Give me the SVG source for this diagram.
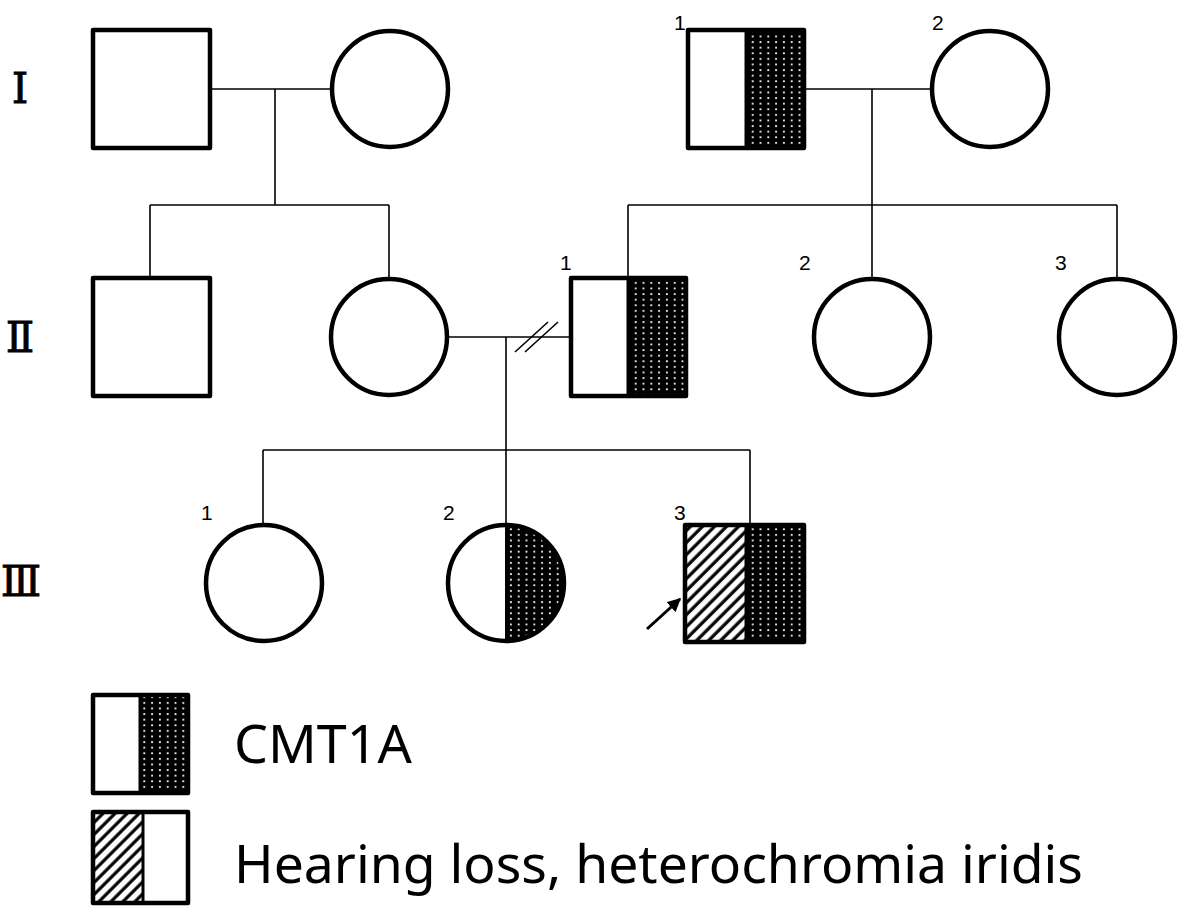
<svg xmlns="http://www.w3.org/2000/svg" width="1181" height="913" viewBox="0 0 1181 913">
<defs>
<pattern id="dots" patternUnits="userSpaceOnUse" width="7.8" height="5.6">
<rect width="7.8" height="5.6" fill="#000"/>
<rect x="3" y="2" width="1.8" height="1.8" fill="#fff"/>
</pattern>
<pattern id="hatch" patternUnits="userSpaceOnUse" width="8.5" height="8.5" patternTransform="rotate(45)">
<rect width="8.5" height="8.5" fill="#fff"/>
<line x1="2" y1="-1" x2="2" y2="10" stroke="#000" stroke-width="3.2"/>
</pattern>
<marker id="arrow" viewBox="0 0 10 10" refX="9" refY="5" markerWidth="4.5" markerHeight="4.5" orient="auto" markerUnits="strokeWidth">
<path d="M0,0 L10,5 L0,10 Z" fill="#000"/>
</marker>
</defs>
<style>
.sym{fill:none;stroke:#000;stroke-width:4.5;stroke-linejoin:round}
.ln{fill:none;stroke:#000;stroke-width:1.6}
.num{font-family:"Liberation Sans","Noto Sans",sans-serif;font-size:21px;fill:#000}
.gen{font-family:"DejaVu Serif","Liberation Serif",serif;font-size:42px;fill:#000;stroke:#000;stroke-width:0.8;text-anchor:middle}
.leg{font-family:"Noto Sans","Open Sans",sans-serif;font-size:52px;fill:#000}
</style>
<rect width="1181" height="913" fill="#fff"/>

<g id="connectors">
<path class="ln" d="M210,89 H332 M275,89 V205 M150,205 H389 M150,205 V278 M389,205 V279"/>
<path class="ln" d="M804,89 H932 M872,89 V205 M628,205 H1117 M628,205 V278 M872,205 V279 M1117,205 V279"/>
<path class="ln" d="M447,337 H571 M506,337 V525 M263,450 H750 M263,450 V525 M750,450 V525"/>
<path class="ln" d="M515,352 L548,322 M525,352 L558,322"/>
<line x1="647" y1="629" x2="680" y2="599" stroke="#000" stroke-width="3" marker-end="url(#arrow)"/>
</g>

<g id="generations">
<text class="gen" x="20" y="103">Ⅰ</text>
<text class="gen" x="20" y="352">Ⅱ</text>
<text class="gen" x="21" y="596">Ⅲ</text>
</g>

<g id="I-left-father"><rect class="sym" x="93" y="30" width="117" height="118" fill="#fff"/></g>
<g id="I-left-mother"><circle class="sym" cx="390" cy="89" r="58" fill="#fff"/></g>

<g id="I-1">
<rect x="746" y="30" width="58" height="118" fill="url(#dots)"/>
<rect class="sym" x="688" y="30" width="116" height="118"/>
<line x1="746" y1="30" x2="746" y2="148" stroke="#000" stroke-width="3"/>
<text class="num" x="674" y="30">1</text>
</g>
<g id="I-2">
<circle class="sym" cx="990" cy="89" r="58" fill="#fff"/>
<text class="num" x="932" y="30">2</text>
</g>

<g id="II-left-uncle"><rect class="sym" x="93" y="278" width="117" height="118" fill="#fff"/></g>
<g id="II-left-mother"><circle class="sym" cx="389" cy="337" r="58" fill="#fff"/></g>

<g id="II-1">
<rect x="628" y="278" width="58" height="118" fill="url(#dots)"/>
<rect class="sym" x="571" y="278" width="115" height="118"/>
<line x1="628" y1="278" x2="628" y2="396" stroke="#000" stroke-width="3"/>
<text class="num" x="560" y="270">1</text>
</g>
<g id="II-2">
<circle class="sym" cx="872" cy="337" r="58" fill="#fff"/>
<text class="num" x="799" y="270">2</text>
</g>
<g id="II-3">
<circle class="sym" cx="1117" cy="337" r="58" fill="#fff"/>
<text class="num" x="1055" y="270">3</text>
</g>

<g id="III-1">
<circle class="sym" cx="264" cy="583" r="58" fill="#fff"/>
<text class="num" x="201" y="520">1</text>
</g>
<g id="III-2">
<path d="M506,525 A58,58 0 0 1 506,641 Z" fill="url(#dots)"/>
<circle class="sym" cx="506" cy="583" r="58"/>
<line x1="506" y1="525" x2="506" y2="641" stroke="#000" stroke-width="2"/>
<text class="num" x="443" y="520">2</text>
</g>
<g id="III-3">
<rect x="685" y="525" width="61" height="117" fill="url(#hatch)"/>
<rect x="746" y="525" width="58" height="117" fill="url(#dots)"/>
<rect class="sym" x="685" y="525" width="119" height="117"/>
<line x1="746" y1="525" x2="746" y2="642" stroke="#000" stroke-width="3"/>
<text class="num" x="674" y="520">3</text>
</g>

<g id="legend-cmt1a">
<rect x="140" y="695" width="48" height="98" fill="url(#dots)"/>
<rect class="sym" x="93" y="695" width="95" height="98"/>
<line x1="140" y1="695" x2="140" y2="793" stroke="#000" stroke-width="3"/>
<text class="leg" x="234" y="763" textLength="178" lengthAdjust="spacingAndGlyphs">CMT1A</text>
</g>
<g id="legend-hearing">
<rect x="93" y="812" width="50" height="91" fill="url(#hatch)"/>
<rect class="sym" x="93" y="812" width="95" height="91"/>
<line x1="143" y1="812" x2="143" y2="903" stroke="#000" stroke-width="3"/>
<text class="leg" x="234" y="883" textLength="849" lengthAdjust="spacingAndGlyphs">Hearing loss, heterochromia iridis</text>
</g>
</svg>
